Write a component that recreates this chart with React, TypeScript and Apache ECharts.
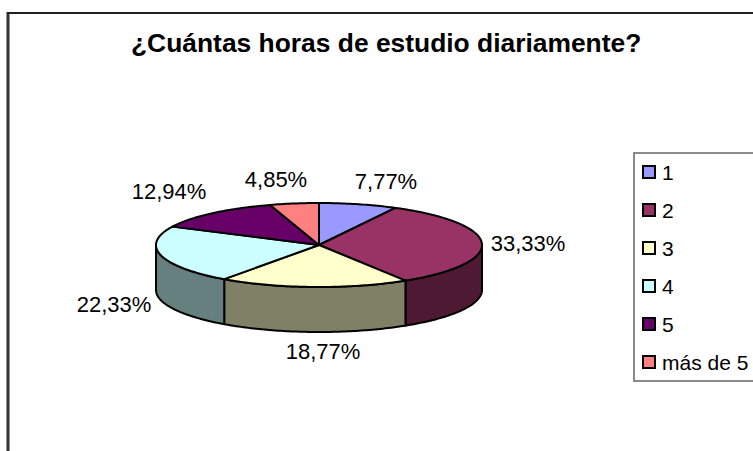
import React, { useEffect, useRef } from "react";
import * as echarts from "echarts";

const categories = ["1", "2", "3", "4", "5", "más de 5"];
const percentages = [7.77, 33.33, 18.77, 22.33, 12.94, 4.85];
const topColors = ["#9999FF", "#993366", "#FFFFCC", "#CCFFFF", "#660066", "#FF8080"];
const wallColors = ["#4D4D80", "#4D1933", "#808066", "#668080", "#330033", "#804040"];
const titleText = "¿Cuántas horas de estudio diariamente?";

const CX = 319, CY = 245, RX = 163, RY = 42, DEPTH = 45;
const labelCenters = [[386, 181], [528, 243], [323, 351], [114, 304], [169, 191], [276, 179]];

const total = percentages.reduce((a, b) => a + b, 0);
const toAngle = (v: number) => (v / total) * 360;
const point = (deg: number, dy = 0) => {
  const r = (deg * Math.PI) / 180;
  return [CX + RX * Math.sin(r), CY - RY * Math.cos(r) + dy];
};
const arcPoints = (a: number, b: number, dy = 0) => {
  const pts: number[][] = [];
  const n = Math.max(2, Math.ceil(b - a));
  for (let i = 0; i <= n; i++) pts.push(point(a + ((b - a) * i) / n, dy));
  return pts;
};

const series = categories.map((name, idx) => {
  const start = percentages.slice(0, idx).reduce((s, v) => s + toAngle(v), 0);
  const end = start + toAngle(percentages[idx]);
  return {
    type: "custom",
    name,
    coordinateSystem: "none",
    silent: true,
    clip: false,
    itemStyle: { color: topColors[idx], borderColor: "#000", borderWidth: 2 },
    data: [percentages[idx]],
    renderItem: () => {
      const children: any[] = [];
      const a = Math.max(start, 90);
      const b = Math.min(end, 270);
      if (b > a) {
        const pts = [...arcPoints(a, b), ...arcPoints(a, b, DEPTH).reverse()];
        children.push({
          type: "polygon",
          shape: { points: pts },
          style: { fill: wallColors[idx], stroke: "#000", lineWidth: 2 },
        });
      }
      children.push({
        type: "polygon",
        shape: { points: [[CX, CY], ...arcPoints(start, end)] },
        style: { fill: topColors[idx], stroke: "#000", lineWidth: 2, lineJoin: "round" },
      });
      children.push({
        type: "text",
        style: {
          x: labelCenters[idx][0],
          y: labelCenters[idx][1],
          text: percentages[idx].toFixed(2).replace(".", ",") + "%",
          fill: "#000",
          font: '22px "Liberation Sans"',
          align: "center",
          verticalAlign: "middle",
        },
      });
      return { type: "group", children };
    },
  };
});

export default function App() {
  const ref = useRef<HTMLDivElement>(null);
  useEffect(() => {
    const chart = echarts.init(ref.current!, null, { renderer: "svg" });
    chart.setOption({
      animation: false,
      backgroundColor: "#fff",
      title: {
        text: titleText,
        left: 131,
        top: 30,
        padding: 0,
        textStyle: { fontFamily: "Liberation Sans", fontSize: 26.4, fontWeight: "bold", color: "#000" },
      },
      legend: {
        left: 642,
        top: 160,
        orient: "vertical",
        selectedMode: false,
        padding: 0,
        data: categories,
        icon: "rect",
        itemWidth: 12,
        itemHeight: 12,
        itemGap: 14,
        textStyle: { fontFamily: "Liberation Sans", fontSize: 21, color: "#000", lineHeight: 24, padding: [0, 0, 0, 2] },
      },
      graphic: [
        { type: "line", shape: { x1: 8, y1: 451, x2: 8, y2: 12 }, style: { stroke: "#333", lineWidth: 3 } },
        { type: "line", shape: { x1: 7, y1: 13, x2: 753, y2: 13 }, style: { stroke: "#222", lineWidth: 2 } },
        { type: "rect", shape: { x: 634, y: 153, width: 130, height: 228 }, style: { fill: "none", stroke: "#666", lineWidth: 1.5 } },
      ],
      series,
    });
    return () => chart.dispose();
  }, []);
  return <div ref={ref} style={{ position: "fixed", left: 0, top: 0, width: 753, height: 451 }} />;
}
